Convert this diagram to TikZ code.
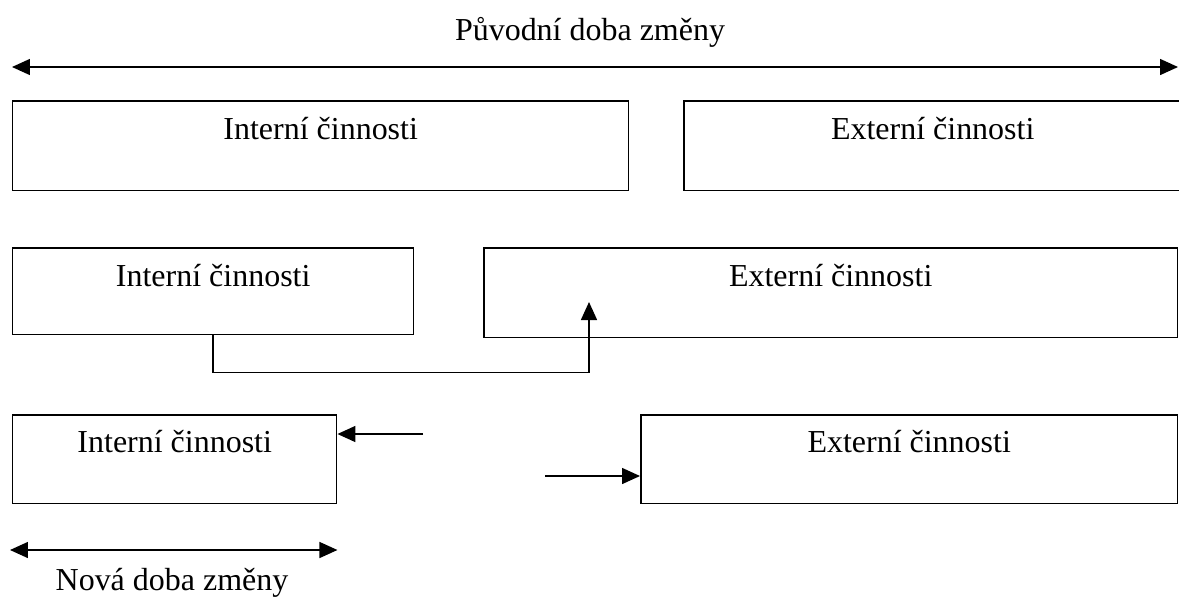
\documentclass[tikz,border=0pt]{standalone}
\usepackage{fontspec}
\setmainfont{Liberation Serif}
\usetikzlibrary{arrows.meta}

\begin{document}
\begin{tikzpicture}[x=0.02cm, y=-0.02cm, line width=0.03cm]
      \tikzset{box/.style={draw, rectangle, inner sep=0pt, anchor=north west,
          text height=0.78cm, text depth=1.02cm, font=\fontsize{18.2}{22}\selectfont},
        lbl/.style={anchor=base, inner sep=0pt, font=\fontsize{18.2}{22}\selectfont},
        tip/.style={-{Triangle[length=0.36cm, width=0.32cm]}},
        both/.style={{Triangle[length=0.36cm, width=0.32cm]}-{Triangle[length=0.36cm, width=0.32cm]}}}
      \path[use as bounding box, clip] (0,0) rectangle (1179,599);
      \node [lbl] (puvodni) at (590,40) {Původní doba změny};
      \coordinate (tl) at (12,67);
      \coordinate (tr) at (1178,67);
      \draw [both] (tl) -- (tr);
      \node [box, minimum width=12.32cm] (int1) at (12,100) {Interní činnosti};
      \node [box, minimum width=9.96cm] (ext1) at (683,100) {Externí činnosti};
      \node [box, minimum width=8.02cm, text depth=0.96cm] (int2) at (12,247) {Interní činnosti};
      \node [box, minimum width=13.88cm] (ext2) at (483,247) {Externí činnosti};
      \coordinate (up) at (589,302);
      \draw [tip] (int2.south) -- ++(0,37) -| (up);
      \node [box, minimum width=6.48cm, text height=0.76cm] (int3) at (12,414) {Interní činnosti};
      \node [box, minimum width=10.74cm, text height=0.76cm] (ext3) at (640,414) {Externí činnosti};
      \coordinate (back) at (423,434);
      \draw [tip] (back) -- (back -| int3.east);
      \coordinate (out) at (545,476);
      \draw [tip] (out) -- (out -| ext3.west);
      \coordinate (nl) at (10,550);
      \draw [both] (nl) -- (nl -| int3.east);
      \node [lbl] (nova) at (172,590) {Nová doba změny};
\end{tikzpicture}
\end{document}
